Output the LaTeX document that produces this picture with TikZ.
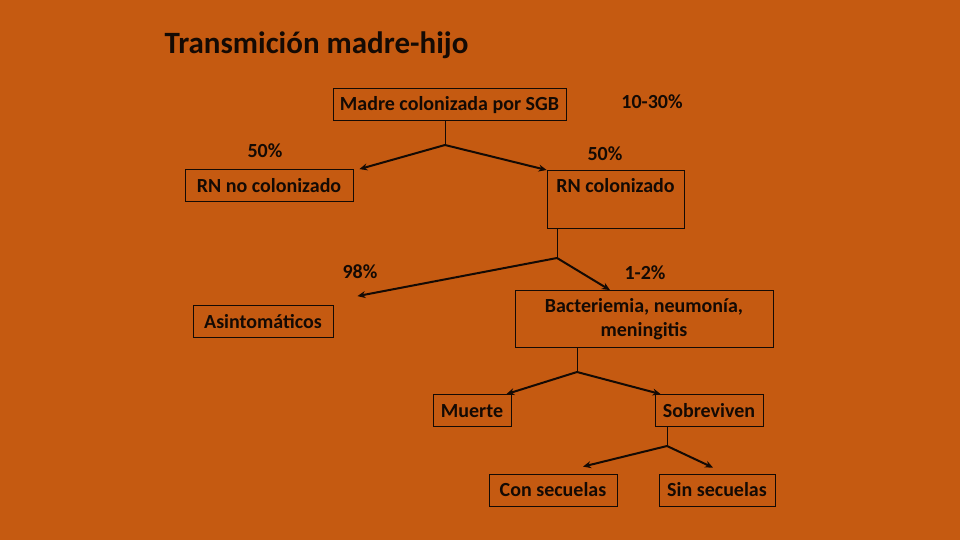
\documentclass[tikz,border=0pt]{standalone}
\usepackage{fontspec}
\setmainfont{Carlito}
\usetikzlibrary{arrows.meta}
\definecolor{slidebg}{HTML}{C55A11}
\definecolor{ink}{HTML}{140A04}
\begin{document}
\begin{tikzpicture}[x=1pt,y=-1pt,
    box/.style={draw=ink,line width=0.8pt,font=\fontsize{20}{24}\selectfont\bfseries,text=ink,
      inner xsep=0pt,inner ysep=6.5pt,text height=16pt,text depth=3pt},
    pct/.style={font=\fontsize{20}{24}\selectfont\bfseries,text=ink},
    stem/.style={draw=ink,line width=0.8pt},
    branch/.style={draw=ink,line width=2pt,-{Stealth[length=8pt,width=7pt]}}]
  \fill[slidebg] (0,0) rectangle (960,540);
  \useasboundingbox (0,0) rectangle (960,540);
  \node[anchor=west,font=\fontsize{31}{36}\selectfont\bfseries,text=ink] (title) at (161,45) {Transmición madre-hijo};
  \node[box,minimum width=233pt] (madre) at (449.5,104) {Madre colonizada por SGB};
  \node[pct] (p1030) at (652,102) {10-30\%};
  \node[box,minimum width=168pt] (rnno) at (269,185.5) {RN no colonizado};
  \node[box,minimum width=137pt,anchor=north,text height=18.5pt,text depth=31.5pt,inner ysep=4pt] (rnc) at (615.5,170) {RN colonizado};
  \node[pct] (p50a) at (265,151) {50\%};
  \node[pct] (p50b) at (605,154) {50\%};
  \node[box,minimum width=140pt] (asint) at (263,321.5) {Asintomáticos};
  \node[box,minimum width=258pt,minimum height=57pt,align=center,text height=,text depth=,inner ysep=4pt,
    font=\fontsize{20}{24}\selectfont\bfseries] (bact) at (644,319) {Bacteriemia, neumonía,\\meningitis};
  \node[pct] (p98) at (360,272) {98\%};
  \node[pct] (p12) at (645,273) {1-2\%};
  \node[box,minimum width=78pt] (muerte) at (472,410.5) {Muerte};
  \node[box,minimum width=108pt] (sobre) at (709,410.5) {Sobreviven};
  \node[box,minimum width=128pt] (con) at (553,490) {Con secuelas};
  \node[box,minimum width=116pt] (sin) at (717,490) {Sin secuelas};
  \coordinate (b1) at (445,145);
  \coordinate (b2) at (557,258);
  \coordinate (b3) at (577,372);
  \coordinate (b4) at (667,446);
  \draw[stem] (b1 |- madre.south) -- (b1);
  \draw[branch] (b1) -- ([xshift=6pt]rnno.north east);
  \draw[branch] (b1) -- (rnc.north west);
  \draw[stem] (b2 |- rnc.south) -- (b2);
  \draw[branch] (b2) -- ([xshift=24pt,yshift=9pt]asint.north east);
  \draw[branch] (b2) -- ([xshift=-34pt]bact.north);
  \draw[stem] (b3 |- bact.south) -- (b3);
  \draw[branch] (b3) -- ([xshift=-5pt]muerte.north east);
  \draw[branch] (b3) -- ([xshift=6pt]sobre.north west);
  \draw[stem] (b4 |- sobre.south) -- (b4);
  \draw[branch] (b4) -- ([xshift=30pt,yshift=7pt]con.north);
  \draw[branch] (b4) -- ([xshift=-4pt,yshift=6pt]sin.north);
\end{tikzpicture}
\end{document}
